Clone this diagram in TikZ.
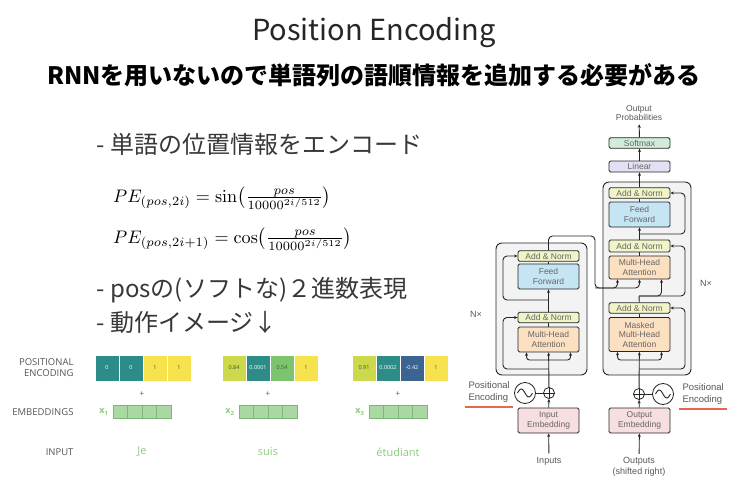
\documentclass[tikz,border=0pt]{standalone}
\usepackage{amsmath}
\usepackage{graphicx}
\usepackage[no-math]{fontspec}
\setmainfont{Noto Sans CJK JP}
\newfontfamily\hv{Liberation Sans}
\newfontfamily\os{Open Sans}
\usetikzlibrary{positioning,arrows.meta}
\definecolor{annorm}{HTML}{F1F4C6}
\definecolor{ffblue}{HTML}{C6E5F4}
\definecolor{mhaorange}{HTML}{FCE0C2}
\definecolor{embpink}{HTML}{F7DEE1}
\definecolor{linlav}{HTML}{E1E1F3}
\definecolor{smgreen}{HTML}{D3ECDA}
\definecolor{stackgray}{HTML}{F3F3F3}
\definecolor{redline}{HTML}{E8674F}
\definecolor{pteal}{HTML}{2D8C87}
\definecolor{pyellow}{HTML}{F6E24C}
\definecolor{plime}{HTML}{CBD94B}
\definecolor{pgreen}{HTML}{7CC56E}
\definecolor{pblue}{HTML}{3C6491}
\definecolor{embgreen}{HTML}{A9D8A3}
\definecolor{embedge}{HTML}{7DB676}
\definecolor{wordgreen}{HTML}{8DCB7F}
\definecolor{labgray}{HTML}{555555}
\tikzset{
  >={Stealth[length=3.5pt,width=3pt]},
  blk/.style={draw=black!85,line width=0.8pt,rounded corners=1.5pt,minimum width=61pt,
    inner sep=0pt,font=\hv\fontsize{8.5}{9.5}\selectfont,text=black!60,align=center},
  addnorm/.style={blk,fill=annorm,minimum height=10.5pt},
  ffwd/.style={blk,fill=ffblue,minimum height=25pt},
  mha/.style={blk,fill=mhaorange,minimum height=25pt},
  embed/.style={blk,fill=embpink,minimum height=25pt},
  stack/.style={draw=black!85,line width=0.9pt,fill=stackgray,rounded corners=6pt,inner sep=0pt},
  addop/.style={circle,draw=black!85,line width=0.8pt,fill=white,minimum size=11pt,inner sep=0pt},
  wave/.style={circle,draw=black!85,line width=0.8pt,fill=white,minimum size=21pt,inner sep=0pt},
  tlab/.style={font=\hv\fontsize{8.5}{9.5}\selectfont,text=black!65,align=center},
  conn/.style={line width=0.9pt,draw=black!85},
  pecell/.style={draw=white,line width=0.4pt,minimum width=24pt,minimum height=26pt,inner sep=0pt,
    font=\os\fontsize{5.5}{5.5}\selectfont},
  embcell/.style={draw=embedge,line width=0.5pt,fill=embgreen,minimum width=14.5pt,minimum height=13pt,inner sep=0pt},
  sidelab/.style={anchor=east,align=right,font=\os\fontsize{9.5}{11}\selectfont,text=labgray},
  word/.style={font=\os\fontsize{11}{12}\selectfont,text=wordgreen},
  bullet/.style={anchor=west,font=\fontsize{24}{27}\selectfont,text=black!78}
}
\begin{document}
\begin{tikzpicture}[x=1pt,y=-1pt]
\useasboundingbox[fill=white] (0,0) rectangle (748,503);

\node (title) at (374,33) {\fontsize{29}{32}\selectfont\color{black!85}Position Encoding};
\node (sub) at (374,75) {\fontsize{24}{27}\selectfont\bfseries RNNを用いないので単語列の語順情報を追加する必要がある};

\node[bullet] (b1) at (93,144) {- 単語の位置情報をエンコード};
\node[anchor=west,inner sep=0pt] (f1) at (113,198) {\resizebox{218pt}{!}{$PE_{(pos,2i)} = \sin\bigl(\tfrac{pos}{10000^{2i/512}}\bigr)$}};
\node[anchor=west,inner sep=0pt] (f2) at (113,239) {\resizebox{239pt}{!}{$PE_{(pos,2i+1)} = \cos\bigl(\tfrac{pos}{10000^{2i/512}}\bigr)$}};
\node[bullet] (b2) at (93,290) {- posの(ソフトな)２進数表現};
\node[bullet] (b3) at (93,322) {- 動作イメージ↓};

\node[sidelab] (peLab) at (77,368) {POSITIONAL\\ENCODING};
\node[sidelab] (embLab) at (77,412) {EMBEDDINGS};
\node[sidelab] (inLab) at (77,452) {INPUT};
\foreach \x/\v/\c/\t [count=\k] in {107/0/pteal/white,131/0/pteal/white,155/1/pyellow/black!70,179/1/pyellow/black!70,
  234/0.84/plime/black!70,258/0.0001/pteal/white,282/0.54/pgreen/black!70,306/1/pyellow/black!70,
  364/0.91/plime/black!70,388/0.0002/pteal/white,412/-0.42/pblue/white,436/1/pyellow/black!70}
  \node[pecell,fill=\c,text=\t] (pe\k) at (\x,368) {\v};
\foreach \g/\gx/\wx/\w in {1/113/142/Je,2/239/268/suis,3/369/398/étudiant} {
  \foreach \j in {0,...,3}
    \node[embcell] (emb\g-\j) at (\gx+7.25+\j*14.5,411.5) {};
  \node[font=\os\bfseries\fontsize{9}{10}\selectfont,text=wordgreen,anchor=east] (xl\g) at (\gx-1,412) {x\textsubscript{\g}};
  \node[font=\os\fontsize{8}{8}\selectfont,text=labgray] (plus\g) at (\wx,394) {+};
  \node[word] (w\g) at (\wx,452) {\w};
}

\node[stack,minimum width=91pt,minimum height=132pt] (encStack) at (541.5,309) {};
\node[stack,minimum width=88pt,minimum height=193pt] (decStack) at (647,278.5) {};

\node[addnorm] (encAN2) at (548.5,256) {Add \& Norm};
\node[ffwd] (encFF) at (548.5,276.5) {Feed\\Forward};
\node[addnorm] (encAN1) at (548.5,317.5) {Add \& Norm};
\node[mha] (encMHA) at (548.5,339.5) {Multi-Head\\Attention};
\node[embed] (inEmb) at (548.5,420.5) {Input\\Embedding};
\node[addop] (encAdd) at (549,393) {};
\node[wave] (encPE) at (525,393) {};
\node[tlab,font=\hv\fontsize{9}{10}\selectfont] (inputs) at (549,461) {Inputs};

\node[blk,fill=smgreen,minimum height=10.5pt] (softmax) at (639.5,143) {Softmax};
\node[blk,fill=linlav,minimum height=11pt] (linear) at (639.5,166.5) {Linear};
\node[addnorm] (decAN3) at (639.5,193) {Add \& Norm};
\node[ffwd] (decFF) at (639.5,214.5) {Feed\\Forward};
\node[addnorm,minimum height=12pt] (decAN2) at (639.5,246) {Add \& Norm};
\node[mha,minimum height=23pt] (decMHA2) at (639.5,267.5) {Multi-Head\\Attention};
\node[addnorm] (decAN1) at (639.5,308) {Add \& Norm};
\node[mha,minimum height=34pt] (decMHA1) at (639.5,334.5) {Masked\\Multi-Head\\Attention};
\node[embed] (outEmb) at (639.5,420.5) {Output\\Embedding};
\node[addop] (decAdd) at (639,394) {};
\node[wave] (decPE) at (663,394) {};
\node[tlab,font=\hv\fontsize{9}{11}\selectfont] (outputs) at (639,467) {Outputs\\(shifted right)};
\node[tlab] (outProb) at (639,113) {Output\\Probabilities};

\node[tlab,font=\hv\fontsize{9}{10}\selectfont] (encN) at (476,314) {N×};
\node[tlab,font=\hv\fontsize{9}{10}\selectfont] (decN) at (706,283) {N×};
\node[tlab,anchor=west,align=left,font=\hv\fontsize{9.5}{12}\selectfont] (encPElab) at (465,392) {Positional\\Encoding};
\node[tlab,anchor=west,align=left,font=\hv\fontsize{9.5}{12}\selectfont] (decPElab) at (679,394) {Positional\\Encoding};
\draw[redline,line width=2.5pt] ([yshift=-1pt]encPElab.south west) -- ([yshift=-1pt]encPElab.south east);
\draw[redline,line width=2.5pt] ([yshift=-1pt]decPElab.south west) -- ([yshift=-1pt]decPElab.south east);

\foreach \n in {encPE,decPE}
  \draw[conn,shift={(\n.center)}] plot[domain=-1:1,samples=25,smooth] (\x*7.5,{4*sin(\x*180)});
\foreach \n in {encAdd,decAdd}
  \draw[conn,line width=0.6pt] (\n.north) -- (\n.south) (\n.west) -- (\n.east);

\coordinate (encRes1) at (549,369);
\coordinate (encQKV) at (549,360);
\coordinate (encRes2) at (549,300);
\coordinate (encTop) at (595,236);
\coordinate (kvBus) at (595,288);
\coordinate (decRes1) at (639,369);
\coordinate (decQKV) at (639,360);
\coordinate (decMid) at (639,296);
\coordinate (decRes3) at (639,234);

\draw[conn,->] (inputs) -- (inEmb);
\draw[conn,->] (inEmb) -- (encAdd);
\draw[conn] (encPE) -- (encAdd);
\draw[conn,->] (encAdd) -- (encMHA);
\draw[conn,->,rounded corners=3pt] (encQKV) -| ([xshift=-22pt]encMHA.south);
\draw[conn,->,rounded corners=3pt] (encQKV) -| ([xshift=22pt]encMHA.south);
\draw[conn,->,rounded corners=4pt] (encRes1) -- ++(-46,0) |- (encAN1.west);
\draw[conn] (encMHA) -- (encAN1);
\draw[conn,->] (encAN1) -- (encFF);
\draw[conn,->,rounded corners=4pt] (encRes2) -- ++(-46,0) |- (encAN2.west);
\draw[conn] (encFF) -- (encAN2);
\draw[conn,->,rounded corners=4pt] (encAN2.north) |- (encTop) -- (kvBus) -| ([xshift=-22pt]decMHA2.south);
\draw[conn,->,rounded corners=4pt] (kvBus) -| (decMHA2.south);

\draw[conn,->] (outputs) -- (outEmb);
\draw[conn,->] (outEmb) -- (decAdd);
\draw[conn] (decPE) -- (decAdd);
\draw[conn,->] (decAdd) -- (decMHA1);
\draw[conn,->,rounded corners=3pt] (decQKV) -| ([xshift=-22pt]decMHA1.south);
\draw[conn,->,rounded corners=3pt] (decQKV) -| ([xshift=22pt]decMHA1.south);
\draw[conn,->,rounded corners=4pt] (decRes1) -- ++(46,0) |- (decAN1.east);
\draw[conn] (decMHA1) -- (decAN1);
\draw[conn] (decAN1) -- (decMid);
\draw[conn,->,rounded corners=4pt] (decMid) -| ([xshift=22pt]decMHA2.south);
\draw[conn,->,rounded corners=4pt] (decMid) -- ++(46,0) |- (decAN2.east);
\draw[conn] (decMHA2) -- (decAN2);
\draw[conn,->] (decAN2) -- (decFF);
\draw[conn,->,rounded corners=4pt] (decRes3) -- ++(46,0) |- (decAN3.east);
\draw[conn] (decFF) -- (decAN3);
\draw[conn,->] (decAN3) -- (linear);
\draw[conn,->] (linear) -- (softmax);
\draw[conn,->] (softmax) -- (outProb);
\end{tikzpicture}
\end{document}
